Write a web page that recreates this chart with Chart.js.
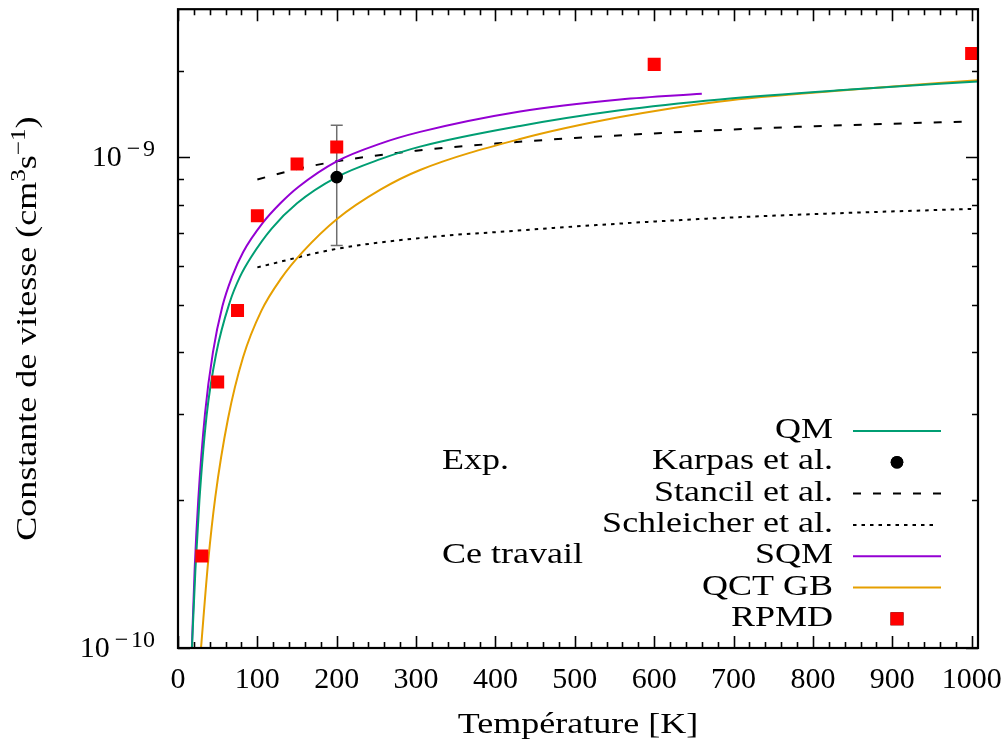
<!DOCTYPE html>
<html>
<head>
<meta charset="utf-8">
<script src="https://cdn.jsdelivr.net/npm/chart.js@4.4.1/dist/chart.umd.min.js"></script>
<style>
  html, body { margin: 0; padding: 0; background: #fff; }
  canvas { display: block; }
</style>
</head>
<body>
<canvas id="rateChart" width="1008" height="745"></canvas>
<script>
// Temperature (K) / rate constant (cm3 s-1)
const qmT = [17, 22, 27, 36, 48, 65, 78, 92, 118, 150, 200, 255, 305, 431, 557, 683, 847, 1008];
const qmK = [0.95e-10, 1.45e-10, 2.0e-10, 2.97e-10, 3.97e-10, 5.05e-10, 5.7e-10, 6.25e-10, 7.15e-10, 8.05e-10,
             9.1e-10, 9.9e-10, 1.05e-9, 1.157e-9, 1.245e-9, 1.31e-9, 1.372e-9, 1.425e-9];

const sqmT = [17, 21, 25.5, 34, 44, 56, 68, 82, 107, 129, 152, 200, 255, 305, 431, 557, 660];
const sqmK = [0.95e-10, 1.45e-10, 2.0e-10, 3.0e-10, 4.0e-10, 4.97e-10, 5.7e-10, 6.4e-10, 7.35e-10, 8.05e-10,
              8.7e-10, 9.8e-10, 1.065e-9, 1.125e-9, 1.238e-9, 1.31e-9, 1.346e-9];

const qctT = [29, 38, 47, 63, 82, 105, 130, 158, 200, 255, 305, 431, 557, 683, 847, 1008];
const qctK = [1.0e-10, 1.5e-10, 2.03e-10, 2.93e-10, 3.91e-10, 4.86e-10, 5.66e-10, 6.43e-10, 7.47e-10, 8.58e-10,
              9.41e-10, 1.088e-9, 1.206e-9, 1.298e-9, 1.371e-9, 1.434e-9];

const stancilT = [100, 150, 200, 300, 400, 500, 660, 800, 1000];
const stancilK = [9.0e-10, 9.45e-10, 9.8e-10, 1.03e-9, 1.065e-9, 1.093e-9, 1.13e-9, 1.155e-9, 1.182e-9];

const schleicherT = [100, 200, 330, 400, 500, 660, 800, 1000];
const schleicherK = [5.96e-10, 6.5e-10, 6.9e-10, 7.03e-10, 7.22e-10, 7.48e-10, 7.65e-10, 7.84e-10];

const rpmdT = [30, 50, 75, 100, 150, 200, 600, 1000];
const rpmdK = [1.54e-10, 3.48e-10, 4.87e-10, 7.59e-10, 9.68e-10, 1.048e-9, 1.544e-9, 1.625e-9];

const karpasT = [200];
const karpasK = [9.1e-10];
const karpasLow = [6.6e-10];
const karpasHigh = [1.16e-9];

const xTickLabels = [0, 100, 200, 300, 400, 500, 600, 700, 800, 900, 1000];
const yTickValues = [1e-10, 1e-9];
const yTickExps = ['10', '9'];

const SERIF = '"Liberation Serif", "DejaVu Serif", serif';
const STRETCH = 1.2; // words a little wider, closer to Computer Modern

function pts(xs, ys) {
  return xs.map((x, i) => ({ x: x, y: ys[i] }));
}

// draws a string, returns its width
function text(ctx, str, x, y, size, align, stretch) {
  stretch = stretch || 1;
  ctx.save();
  ctx.font = size + 'px ' + SERIF;
  const w = ctx.measureText(str).width * stretch;
  const x0 = align === 'right' ? x - w : align === 'center' ? x - w / 2 : x;
  ctx.translate(x0, y);
  ctx.scale(stretch, 1);
  ctx.textAlign = 'left';
  ctx.textBaseline = 'alphabetic';
  ctx.fillStyle = '#000';
  ctx.fillText(str, 0, 0);
  ctx.restore();
  return w;
}

function textWidth(ctx, str, size, stretch) {
  ctx.save();
  ctx.font = size + 'px ' + SERIF;
  const w = ctx.measureText(str).width * (stretch || 1);
  ctx.restore();
  return w;
}

// error bar of the experimental point
const errorBars = {
  id: 'errorBars',
  beforeDatasetsDraw(chart) {
    const { ctx, scales: { x, y } } = chart;
    ctx.save();
    ctx.strokeStyle = '#6e6e6e';
    ctx.lineWidth = 1.5;
    karpasT.forEach((t, i) => {
      const px = x.getPixelForValue(t);
      const y1 = y.getPixelForValue(karpasLow[i]);
      const y2 = y.getPixelForValue(karpasHigh[i]);
      ctx.beginPath();
      ctx.moveTo(px, y1); ctx.lineTo(px, y2);
      ctx.moveTo(px - 6, y1); ctx.lineTo(px + 6, y1);
      ctx.moveTo(px - 6, y2); ctx.lineTo(px + 6, y2);
      ctx.stroke();
    });
    ctx.restore();
  }
};

// gnuplot style box, inward ticks and labels
const frame = {
  id: 'frame',
  afterDraw(chart) {
    const { ctx, chartArea: a, scales: { x, y } } = chart;
    ctx.save();
    ctx.strokeStyle = '#000';
    ctx.lineWidth = 1.6;
    ctx.beginPath();
    x.ticks.forEach(t => {
      if (t.value > 1000) return;
      const px = Math.round(x.getPixelForValue(t.value)) + 0.5;
      const len = t.value % 100 === 0 ? 12 : 6;
      ctx.moveTo(px, a.bottom); ctx.lineTo(px, a.bottom - len);
      ctx.moveTo(px, a.top); ctx.lineTo(px, a.top + len);
    });
    y.ticks.forEach(t => {
      if (t.value < 1e-10 || t.value > 1.99e-9) return;
      const py = Math.round(y.getPixelForValue(t.value)) + 0.5;
      const mant = t.value / Math.pow(10, Math.floor(Math.log10(t.value) + 1e-9));
      const len = Math.abs(mant - 1) < 1e-6 ? 12 : 6;
      ctx.moveTo(a.left, py); ctx.lineTo(a.left + len, py);
      ctx.moveTo(a.right, py); ctx.lineTo(a.right - len, py);
    });
    ctx.stroke();
    ctx.lineWidth = 2.2;
    ctx.strokeRect(a.left, a.top, a.right - a.left, a.bottom - a.top);
    ctx.restore();

    // x tick labels
    xTickLabels.forEach(v => {
      text(ctx, String(v), x.getPixelForValue(v), a.bottom + 40, 30, 'center');
    });
    // y tick labels: 10 with a raised exponent, wide minus like TeX
    yTickValues.forEach((v, i) => {
      const py = y.getPixelForValue(v);
      const right = a.left - 23;
      const es = 24;
      const dw = text(ctx, yTickExps[i], right, py - 1, es, 'right');
      const mw = es * 0.8;
      text(ctx, '\u2212', right - dw - mw / 2, py - 1, es, 'center');
      text(ctx, '10', right - dw - mw - 2, py + 8.5, 30, 'right');
    });
    // axis titles
    text(ctx, 'Température [K]', (a.left + a.right) / 2, 733, 30, 'center', STRETCH);

    const segs = [
      { t: 'Constante de vitesse (cm', s: 30, dy: 0 },
      { t: '3', s: 21, dy: -11 },
      { t: 's', s: 30, dy: 0 },
      { t: '\u22121', s: 21, dy: -11 },
      { t: ')', s: 30, dy: 0 }
    ];
    let total = 0;
    segs.forEach(g => { total += textWidth(ctx, g.t, g.s, STRETCH); });
    ctx.save();
    ctx.translate(36, (a.top + a.bottom) / 2);
    ctx.rotate(-Math.PI / 2);
    let cx = -total / 2;
    segs.forEach(g => { cx += text(ctx, g.t, cx, g.dy, g.s, 'left', STRETCH); });
    ctx.restore();
  }
};

// legend drawn like the gnuplot key
const legendOrder = ['QM', 'Karpas et al.', 'Stancil et al.', 'Schleicher et al.', 'SQM', 'QCT GB', 'RPMD'];
const legendGroups = { 'Karpas et al.': 'Exp.', 'SQM': 'Ce travail' };

const key = {
  id: 'key',
  afterDraw(chart) {
    const ctx = chart.ctx;
    const textRight = 833, lineFrom = 853, lineTo = 941, firstRow = 431, rowStep = 31.3;
    legendOrder.forEach((label, i) => {
      const ds = chart.data.datasets.find(d => d.label === label);
      const ry = firstRow + i * rowStep;
      text(ctx, label, textRight, ry + 7, 30, 'right', STRETCH);
      if (legendGroups[label]) text(ctx, legendGroups[label], 442, ry + 7, 30, 'left', STRETCH);
      ctx.save();
      if (ds.showLine) {
        ctx.strokeStyle = ds.borderColor;
        ctx.lineWidth = ds.borderWidth;
        ctx.setLineDash(ds.borderDash || []);
        ctx.beginPath();
        ctx.moveTo(lineFrom, ry);
        ctx.lineTo(ds.borderDash && ds.borderDash[0] < 5 ? lineTo - 6 : lineTo, ry);
        ctx.stroke();
      } else {
        Chart.helpers.drawPoint(ctx, {
          pointStyle: ds.pointStyle,
          radius: ds.pointRadius,
          borderWidth: 0,
          rotation: 0
        }, (lineFrom + lineTo) / 2, ry);
        ctx.fillStyle = ds.backgroundColor;
        ctx.fill();
      }
      ctx.restore();
    });
  }
};

const lineStyle = { showLine: true, pointRadius: 0, borderWidth: 2, fill: false, cubicInterpolationMode: 'monotone', clip: 0 };

new Chart(document.getElementById('rateChart').getContext('2d'), {
  type: 'scatter',
  data: {
    datasets: [
      { label: 'RPMD', data: pts(rpmdT, rpmdK), pointStyle: 'rect', pointRadius: 9.2,
        backgroundColor: '#ff0000', borderWidth: 0, order: 0, clip: 0 },
      { label: 'Karpas et al.', data: pts(karpasT, karpasK), pointStyle: 'circle', pointRadius: 6.3,
        backgroundColor: '#000000', borderWidth: 0, order: 1, clip: 0 },
      Object.assign({ label: 'QM', data: pts(qmT, qmK), borderColor: '#009e73', order: 2 }, lineStyle),
      Object.assign({ label: 'SQM', data: pts(sqmT, sqmK), borderColor: '#9400d3', order: 3 }, lineStyle),
      Object.assign({ label: 'QCT GB', data: pts(qctT, qctK), borderColor: '#e69f00', order: 4 }, lineStyle),
      Object.assign({ label: 'Stancil et al.', data: pts(stancilT, stancilK), borderColor: '#000000',
        borderDash: [8, 12], order: 5 }, lineStyle),
      Object.assign({ label: 'Schleicher et al.', data: pts(schleicherT, schleicherK), borderColor: '#000000',
        borderDash: [3.5, 5], order: 6 }, lineStyle)
    ]
  },
  options: {
    responsive: false,
    animation: false,
    layout: { padding: { top: 7, right: 30, left: 0, bottom: 0 } },
    plugins: { legend: { display: false }, tooltip: { enabled: false } },
    scales: {
      x: {
        type: 'linear', min: 0, max: 1008,
        ticks: { display: false, stepSize: 20, includeBounds: false },
        grid: { display: false }, border: { display: false },
        afterFit(s) { s.height = 97; }
      },
      y: {
        type: 'logarithmic', min: 1e-10, max: 2e-9,
        ticks: { display: false },
        grid: { display: false }, border: { display: false },
        afterFit(s) { s.width = 178; }
      }
    }
  },
  plugins: [errorBars, frame, key]
});
</script>
</body>
</html>
